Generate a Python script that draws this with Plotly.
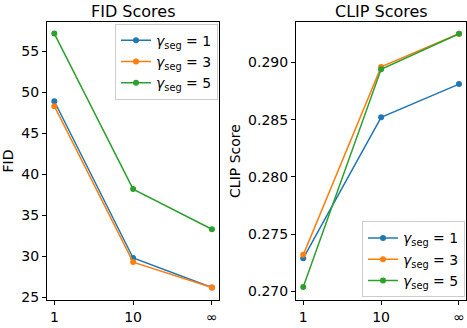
import plotly.graph_objects as go

x_labels = ["1", "10", "∞"]
series_names = ["<i>γ</i><sub>seg</sub> = 1", "<i>γ</i><sub>seg</sub> = 3", "<i>γ</i><sub>seg</sub> = 5"]
fid_g1 = [48.9, 29.8, 26.2]
fid_g3 = [48.3, 29.3, 26.2]
fid_g5 = [57.15, 38.2, 33.3]
clip_g1 = [0.2729, 0.2852, 0.2881]
clip_g3 = [0.2732, 0.2896, 0.2925]
clip_g5 = [0.2704, 0.2894, 0.2925]
colors = ["#1f77b4", "#ff7f0e", "#2ca02c"]

W, H = 467, 328
fig = go.Figure()
xs = [0, 1, 2]
for name, ys, c in zip(series_names, [fid_g1, fid_g3, fid_g5], colors):
    fig.add_trace(go.Scatter(x=xs, y=ys, mode="lines+markers", name=name,
                             line=dict(color=c, width=1.5), marker=dict(color=c, size=6),
                             xaxis="x", yaxis="y", legend="legend"))
for name, ys, c in zip(series_names, [clip_g1, clip_g3, clip_g5], colors):
    fig.add_trace(go.Scatter(x=xs, y=ys, mode="lines+markers", name=name,
                             line=dict(color=c, width=1.5), marker=dict(color=c, size=6),
                             xaxis="x2", yaxis="y2", legend="legend2"))

axis_common = dict(showline=True, linecolor="black", linewidth=1, mirror=True,
                   ticks="outside", ticklen=4, tickcolor="black", showgrid=False,
                   zeroline=False, tickfont=dict(family="DejaVu Sans", size=14, color="black"))
y0, y1 = 1 - 305 / H, 1 - 22 / H
fig.update_layout(
    width=W, height=H, margin=dict(l=0, r=0, t=0, b=0),
    plot_bgcolor="white", paper_bgcolor="white",
    font=dict(family="DejaVu Sans", size=14, color="black"),
    xaxis=dict(domain=[47 / W, 219 / W], range=[-0.093, 2.09], tickvals=xs, ticktext=x_labels, anchor="y", **axis_common),
    yaxis=dict(domain=[y0, y1], range=[24.64, 58.6], tickvals=[25, 30, 35, 40, 45, 50, 55],
               title=dict(text="FID", font=dict(family="DejaVu Sans", size=14, color="black"), standoff=6),
               anchor="x", **axis_common),
    xaxis2=dict(domain=[296 / W, 466 / W], range=[-0.093, 2.09], tickvals=xs, ticktext=x_labels, anchor="y2", **axis_common),
    yaxis2=dict(domain=[y0, y1], range=[0.26923, 0.29355], tickvals=[0.270, 0.275, 0.280, 0.285, 0.290],
                tickformat=".3f",
                title=dict(text="CLIP Score", font=dict(family="DejaVu Sans", size=14, color="black"), standoff=4),
                anchor="x2", **axis_common),
    legend=dict(x=218 / W, xanchor="right", y=1 - 24 / H, yanchor="top", bgcolor="rgba(255,255,255,0.8)",
                bordercolor="#cccccc", borderwidth=1, font=dict(family="DejaVu Sans", size=14, color="black"),
                tracegroupgap=0),
    legend2=dict(x=465 / W, xanchor="right", y=1 - 302 / H, yanchor="bottom", bgcolor="rgba(255,255,255,0.8)",
                 bordercolor="#cccccc", borderwidth=1, font=dict(family="DejaVu Sans", size=14, color="black"),
                 tracegroupgap=0),
    annotations=[
        dict(text="FID Scores", x=(47 + 219) / 2 / W, y=1 - 12 / H, xref="paper", yref="paper",
             showarrow=False, font=dict(family="DejaVu Sans", size=16, color="black"),
             xanchor="center", yanchor="middle"),
        dict(text="CLIP Scores", x=(296 + 466) / 2 / W, y=1 - 12 / H, xref="paper", yref="paper",
             showarrow=False, font=dict(family="DejaVu Sans", size=16, color="black"),
             xanchor="center", yanchor="middle"),
    ],
)
fig.write_html("out.html", config={"displayModeBar": False},
               post_script="document.body.style.margin='0';document.body.style.overflow='hidden';")
